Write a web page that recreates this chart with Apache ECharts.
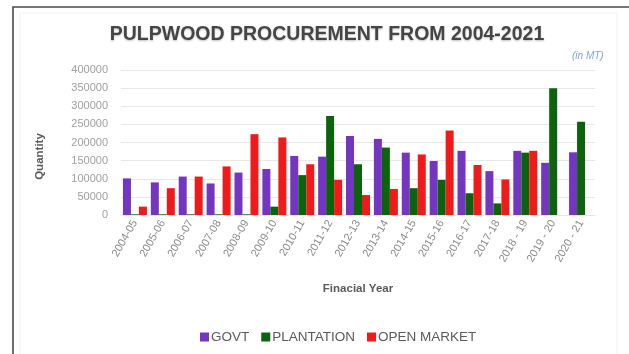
<!DOCTYPE html>
<html>
<head>
<meta charset="utf-8">
<script src="https://cdn.jsdelivr.net/npm/echarts@6/dist/echarts.min.js"></script>
<style>
  html, body { margin: 0; padding: 0; background: #ffffff; }
  #chart { width: 629px; height: 354px; }
</style>
</head>
<body>
<div id="chart"></div>
<script>
// Financial years on the category axis
var years = ['2004-05', '2005-06', '2006-07', '2007-08', '2008-09', '2009-10',
  '2010-11', '2011-12', '2012-13', '2013-14', '2014-15', '2015-16',
  '2016-17', '2017-18', '2018 - 19', '2019 - 20', '2020 - 21'];

// Procurement in metric tonnes, by source
var govt = [101000, 90000, 106000, 87000, 117000, 127000, 163000, 161000, 218000,
  210000, 172000, 149000, 177000, 121000, 177000, 144000, 173000];
var plantation = [2000, 2000, 2000, 2000, 2000, 23000, 110000, 273000, 140000,
  186000, 74000, 97000, 60000, 32000, 172000, 350000, 257000];
var openMarket = [23000, 74000, 106000, 134000, 223000, 214000, 140000, 97000, 55000,
  72000, 167000, 233000, 138000, 98000, 177000, 0, 0];

// Value axis ticks
var yTicks = [0, 50000, 100000, 150000, 200000, 250000, 300000, 350000, 400000];

var seriesNames = ['GOVT', 'PLANTATION', 'OPEN MARKET'];
var seriesColors = ['#7436c0', '#0b630b', '#f01a1a'];
var seriesData = [govt, plantation, openMarket];

var chart = echarts.init(document.getElementById('chart'), null, { renderer: 'canvas' });

var option = {
  backgroundColor: '#ffffff',
  animation: false,
  title: {
    text: 'PULPWOOD PROCUREMENT FROM 2004-2021',
    left: 322,
    textAlign: 'center',
    top: 20,
    textStyle: {
      fontFamily: 'Liberation Sans, Arial, sans-serif',
      fontSize: 19.5,
      fontWeight: 'bold',
      color: '#454545',
      textShadowColor: 'rgba(0,0,0,0.25)',
      textShadowBlur: 2,
      textShadowOffsetY: 1
    }
  },
  graphic: [
    {
      type: 'rect',
      shape: { x: 13, y: 7, width: 640, height: 360 },
      style: { fill: 'none', stroke: '#4a4a4a', lineWidth: 1.6 },
      silent: true,
      z: 0
    },
    {
      type: 'rect',
      shape: { x: 20, y: 13, width: 597, height: 360 },
      style: { fill: 'none', stroke: '#f0f0f0', lineWidth: 1 },
      silent: true,
      z: 0
    },
    {
      type: 'text',
      left: 572,
      top: 51,
      style: {
        text: '(in MT)',
        fontFamily: 'Liberation Sans, Arial, sans-serif',
        fontSize: 10,
        fontStyle: 'italic',
        fill: '#7fa6d8'
      }
    }
  ],
  legend: {
    data: seriesNames,
    bottom: 5,
    left: 195,
    icon: 'rect',
    itemWidth: 9,
    itemHeight: 9,
    itemGap: 12,
    textStyle: {
      fontFamily: 'Liberation Sans, Arial, sans-serif',
      fontSize: 13.5,
      color: '#5a5a5a',
      padding: [0, 0, 0, -3]
    }
  },
  grid: {
    left: 121,
    right: 34,
    top: 70,
    bottom: 139
  },
  xAxis: {
    type: 'category',
    data: years,
    name: 'Finacial Year',
    nameLocation: 'middle',
    nameGap: 68,
    nameTextStyle: {
      fontFamily: 'Liberation Sans, Arial, sans-serif',
      fontSize: 11.5,
      fontWeight: 'bold',
      color: '#595959'
    },
    axisLine: { show: true, lineStyle: { color: '#e6e6e6' } },
    axisTick: { show: false },
    axisLabel: {
      rotate: 60,
      interval: 0,
      margin: 6,
      fontFamily: 'Liberation Sans, Arial, sans-serif',
      fontSize: 11,
      color: '#8a8a8a'
    }
  },
  yAxis: {
    type: 'value',
    min: yTicks[0],
    max: yTicks[yTicks.length - 1],
    interval: yTicks[1] - yTicks[0],
    name: 'Quantity',
    nameLocation: 'middle',
    nameGap: 75,
    nameTextStyle: {
      fontFamily: 'Liberation Sans, Arial, sans-serif',
      fontSize: 11.5,
      fontWeight: 'bold',
      color: '#595959',
      padding: [0, 28, 0, 0]
    },
    axisLine: { show: false },
    axisTick: { show: false },
    splitLine: { lineStyle: { color: '#e8e8e8' } },
    axisLabel: {
      margin: 13,
      fontFamily: 'Liberation Sans, Arial, sans-serif',
      fontSize: 11,
      color: '#a0a0a0',
      padding: [5, 0, 0, 0],
      formatter: function (v) { return String(v); }
    }
  },
  series: seriesNames.map(function (name, i) {
    return {
      name: name,
      type: 'bar',
      data: seriesData[i],
      barGap: '0%',
      barCategoryGap: '14%',
      itemStyle: { color: seriesColors[i] }
    };
  })
};

chart.setOption(option);
</script>
</body>
</html>
